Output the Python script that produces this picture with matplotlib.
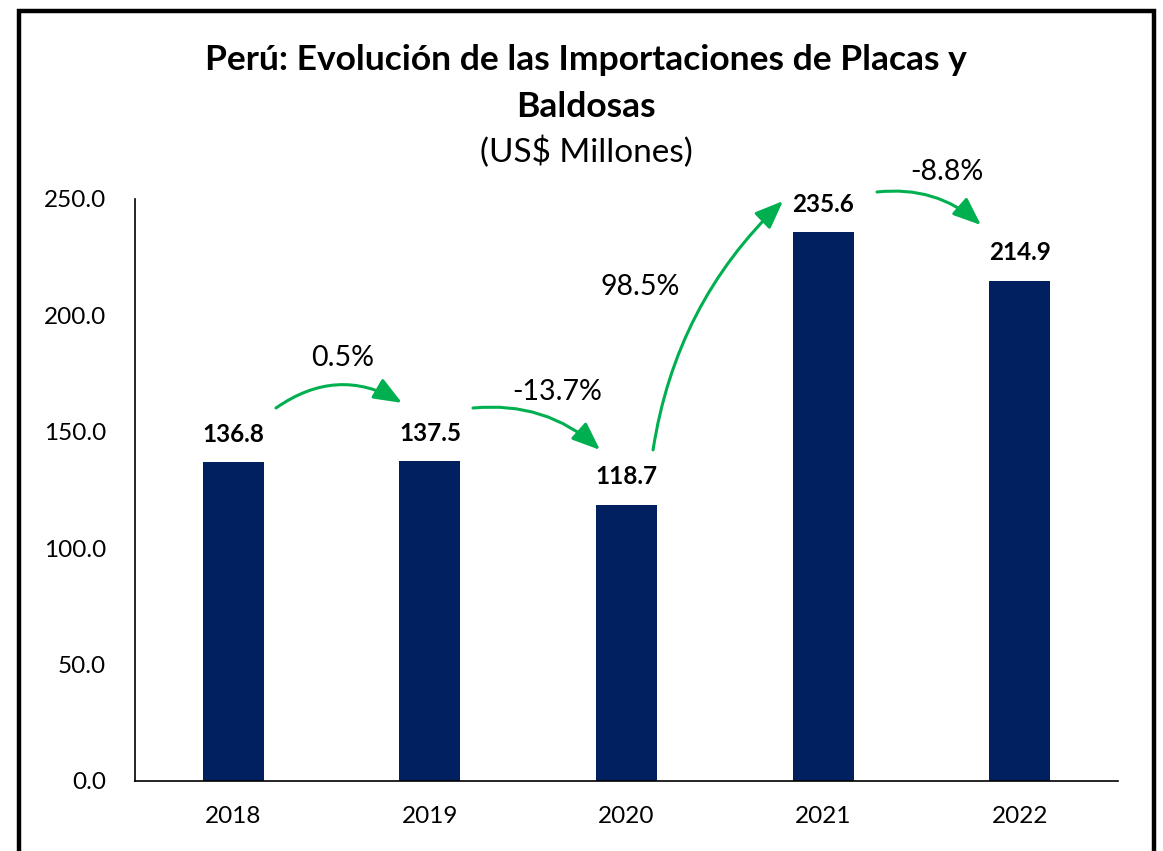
import matplotlib
matplotlib.use("Agg")
import matplotlib.pyplot as plt
from matplotlib.patches import Rectangle

plt.rcParams['font.family'] = ['Lato', 'DejaVu Sans']

# ---- data ----
years = ["2018", "2019", "2020", "2021", "2022"]
values = [136.8, 137.5, 118.7, 235.6, 214.9]
growth_labels = ["0.5%", "-13.7%", "98.5%", "-8.8%"]
y_ticks = [0, 50, 100, 150, 200, 250]

# ---- annotation layout (data coords) ----
arrow_starts = [(0.217, 160.2), (1.219, 160.2), (2.135, 142.2), (3.274, 253.0)]
arrow_ends = [(0.858, 162.4), (1.865, 142.2), (2.796, 249.1), (3.803, 238.8)]
arrow_rads = [-0.32, -0.22, -0.17, -0.22]
label_pos = [(0.558, 181.7), (1.647, 167.1), (2.069, 212.2), (3.630, 261.6)]

BAR = "#002060"
GREEN = "#00B050"

fig = plt.figure(figsize=(11.63, 8.51), dpi=100)
ax = fig.add_axes([0.1161, 0.0823, 0.8452, 0.6839])

x = list(range(len(years)))
bars = ax.bar(x, values, width=0.31, color=BAR, zorder=2)

ax.set_xlim(-0.5, len(years) - 0.5)
ax.set_ylim(0, 250)
ax.set_yticks(y_ticks)
ax.set_yticklabels([f"{v:.1f}" for v in y_ticks], fontsize=17.5)
ax.set_xticks(x)
ax.set_xticklabels(years, fontsize=17.5)
ax.tick_params(axis='y', length=0, pad=21)
ax.tick_params(axis='x', length=0, pad=18)

for s in ["top", "right"]:
    ax.spines[s].set_visible(False)
for s in ["left", "bottom"]:
    ax.spines[s].set_linewidth(1.2)
    ax.spines[s].set_color("#000000")

for xi, v in zip(x, values):
    ax.annotate(f"{v:.1f}", (xi, v), xytext=(0, 20), textcoords="offset points",
                ha="center", va="center", fontsize=17.5, fontweight="bold",
                annotation_clip=False)

for (s, e, r, lbl, lp) in zip(arrow_starts, arrow_ends, arrow_rads, growth_labels, label_pos):
    ax.annotate("", xy=e, xytext=s, xycoords="data", textcoords="data",
                annotation_clip=False,
                arrowprops=dict(arrowstyle="-|>,head_length=0.9,head_width=0.36",
                                mutation_scale=19, color=GREEN, lw=2.2,
                                shrinkA=0, shrinkB=0,
                                connectionstyle=f"arc3,rad={r}"))
    ax.text(lp[0], lp[1], lbl, ha="center", va="center", fontsize=20.5, clip_on=False)

fig.text(0.504, 0.9295, "Perú: Evolución de las Importaciones de Placas y",
         ha="center", va="center", fontsize=25.5, fontweight="bold")
fig.text(0.504, 0.874, "Baldosas", ha="center", va="center", fontsize=25.5, fontweight="bold")
fig.text(0.504, 0.821, "(US$ Millones)", ha="center", va="center", fontsize=24)

border = Rectangle((19 / 1163, -0.05), (1153.5 - 19) / 1163, 1 - 11 / 851 + 0.05,
                   transform=fig.transFigure, fill=False, edgecolor="black",
                   linewidth=3.2, clip_on=False)
fig.patches.append(border)

fig.savefig("out.png", dpi=100)
